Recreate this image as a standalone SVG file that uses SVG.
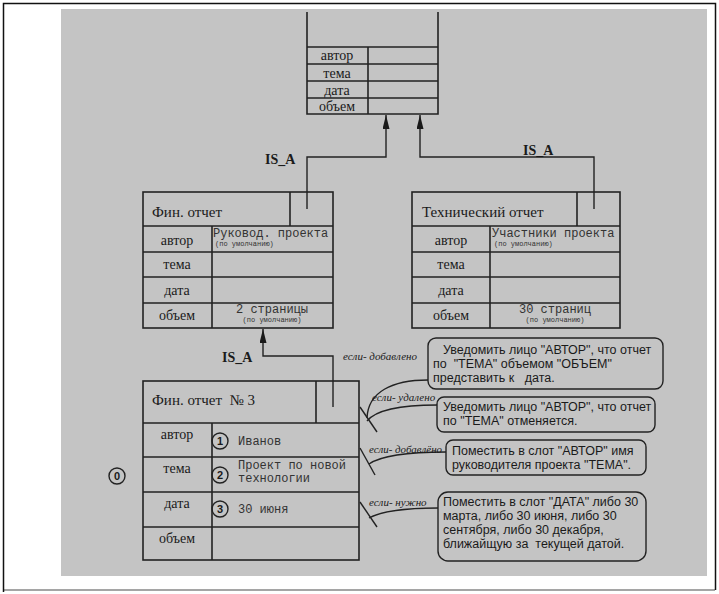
<svg xmlns="http://www.w3.org/2000/svg" width="719" height="594" viewBox="0 0 719 594">
<defs>
<marker id="arr" viewBox="0 0 14 7" refX="14" refY="3.5" markerWidth="14" markerHeight="7" markerUnits="userSpaceOnUse" orient="auto">
<path d="M0,0 L14,3.5 L0,7 Z" fill="#1a1a1a"/>
</marker>
<style>
.bx{fill:none;stroke:#222;stroke-width:1.6}
.ln{fill:none;stroke:#222;stroke-width:1.4}
.lbl{font-family:"Liberation Serif",serif;font-size:14px;fill:#1a1a1a;text-anchor:middle}
.ttl{font-family:"Liberation Serif",serif;font-size:15px;fill:#1a1a1a}
.isa{font-family:"Liberation Serif",serif;font-size:14px;font-weight:bold;fill:#1a1a1a}
.val{font-family:"Liberation Mono",monospace;font-size:12px;fill:#333}
.sm{font-family:"Liberation Mono",monospace;font-size:7px;fill:#333}
.cond{font-family:"Liberation Serif",serif;font-size:11px;font-style:italic;fill:#1a1a1a}
.call{font-family:"Liberation Sans",sans-serif;font-size:12.5px;fill:#1a1a1a}
.cb{fill:none;stroke:#222;stroke-width:1.4}
.num{font-family:"Liberation Sans",sans-serif;font-size:11px;font-weight:bold;fill:#1a1a1a;text-anchor:middle}
.circ{fill:none;stroke:#222;stroke-width:1.4}
</style>
</defs>
<rect x="0" y="0" width="719" height="594" fill="#ffffff"/>
<path d="M3.5,592 L3.5,3.5 L715.5,3.5 L715.5,590" fill="none" stroke="#111" stroke-width="1.5"/>
<line x1="3.5" y1="590" x2="715.5" y2="590" stroke="#111" stroke-width="1.5" stroke-dasharray="1,1"/>
<rect x="61" y="9" width="646" height="567" fill="#c4c4c4"/>

<g id="report">
<path class="bx" d="M307,12 L307,114 L438,114 L438,12"/>
<line class="bx" x1="307" y1="47" x2="438" y2="47"/>
<line class="bx" x1="307" y1="64" x2="438" y2="64"/>
<line class="bx" x1="307" y1="81" x2="438" y2="81"/>
<line class="bx" x1="307" y1="98" x2="438" y2="98"/>
<line class="bx" x1="368" y1="47" x2="368" y2="114"/>
<text class="lbl" x="337" y="60" font-size="13">автор</text>
<text class="lbl" x="337" y="78" font-size="13">тема</text>
<text class="lbl" x="337" y="95" font-size="13">дата</text>
<text class="lbl" x="337" y="111" font-size="13">объем</text>
</g>

<g id="fin">
<rect class="bx" x="143" y="192" width="190" height="136"/>
<line class="bx" x1="143" y1="226" x2="333" y2="226"/>
<line class="bx" x1="143" y1="252" x2="333" y2="252"/>
<line class="bx" x1="143" y1="277" x2="333" y2="277"/>
<line class="bx" x1="143" y1="303" x2="333" y2="303"/>
<line class="bx" x1="212" y1="226" x2="212" y2="328"/>
<line class="bx" x1="290" y1="192" x2="290" y2="226"/>
<text class="ttl" x="152" y="217">Фин. отчет</text>
<text class="lbl" x="177" y="245">автор</text>
<text class="lbl" x="177" y="269">тема</text>
<text class="lbl" x="177" y="295">дата</text>
<text class="lbl" x="177" y="320">объем</text>
<text class="val" x="213" y="237">Руковод. проекта</text>
<text class="sm" x="215" y="246">(по умолчанию)</text>
<text class="val" x="272" y="313" text-anchor="middle">2 страницы</text>
<text class="sm" x="272" y="322" text-anchor="middle">(по умолчанию)</text>
</g>

<g id="tech">
<rect class="bx" x="412" y="192" width="208" height="136"/>
<line class="bx" x1="412" y1="226" x2="620" y2="226"/>
<line class="bx" x1="412" y1="252" x2="620" y2="252"/>
<line class="bx" x1="412" y1="277" x2="620" y2="277"/>
<line class="bx" x1="412" y1="303" x2="620" y2="303"/>
<line class="bx" x1="490" y1="226" x2="490" y2="328"/>
<line class="bx" x1="577" y1="192" x2="577" y2="226"/>
<text class="ttl" x="422" y="217">Технический отчет</text>
<text class="lbl" x="451" y="245">автор</text>
<text class="lbl" x="451" y="269">тема</text>
<text class="lbl" x="451" y="295">дата</text>
<text class="lbl" x="451" y="320">объем</text>
<text class="val" x="492" y="237">Участники проекта</text>
<text class="sm" x="494" y="246">(по умолчанию)</text>
<text class="val" x="555" y="313" text-anchor="middle">30 страниц</text>
<text class="sm" x="555" y="322" text-anchor="middle">(по умолчанию)</text>
</g>

<g id="fin3">
<rect class="bx" x="143" y="381" width="216" height="179"/>
<line class="bx" x1="143" y1="423" x2="359" y2="423"/>
<line class="bx" x1="143" y1="457" x2="359" y2="457"/>
<line class="bx" x1="143" y1="492" x2="359" y2="492"/>
<line class="bx" x1="143" y1="527" x2="359" y2="527"/>
<line class="bx" x1="212" y1="423" x2="212" y2="560"/>
<line class="bx" x1="316" y1="381" x2="316" y2="423"/>
<text class="ttl" x="152" y="405" xml:space="preserve">Фин. отчет  № 3</text>
<text class="lbl" x="177" y="439">автор</text>
<text class="lbl" x="177" y="473">тема</text>
<text class="lbl" x="177" y="508">дата</text>
<text class="lbl" x="177" y="543">объем</text>
<circle class="circ" cx="220" cy="441" r="8"/>
<text class="num" x="220" y="445">1</text>
<circle class="circ" cx="220" cy="475" r="8"/>
<text class="num" x="220" y="479">2</text>
<circle class="circ" cx="220" cy="509" r="8"/>
<text class="num" x="220" y="513">3</text>
<text class="val" x="238" y="445">Иванов</text>
<text class="val" x="238" y="469">Проект по новой</text>
<text class="val" x="238" y="482">технологии</text>
<text class="val" x="238" y="513">30 июня</text>
</g>

<g id="zero">
<circle class="circ" cx="117" cy="476" r="8"/>
<text class="num" x="117" y="480">0</text>
</g>

<g id="connectors">
<path class="ln" d="M307,209 L307,157 L386,157 L386,115" marker-end="url(#arr)"/>
<path class="ln" d="M594,209 L594,157 L420,157 L420,115" marker-end="url(#arr)"/>
<path class="ln" d="M333,407 L333,356 L263,356 L263,329" marker-end="url(#arr)"/>
<text class="isa" x="265" y="164">IS_A</text>
<text class="isa" x="523" y="155">IS_A</text>
<text class="isa" x="222" y="362">IS_A</text>
<line class="ln" x1="360" y1="407" x2="377" y2="432"/>
<line class="ln" x1="360" y1="448" x2="375" y2="475"/>
<line class="ln" x1="360" y1="502" x2="377" y2="527"/>
<path class="ln" d="M428,380 C392,380 368,392 367,418"/>
<path class="ln" d="M437,405 C400,405 376,410 367,421"/>
<path class="ln" d="M446,452 C410,452 382,455 369,464"/>
<path class="ln" d="M438,508 C410,508 384,510 369,518"/>
<text class="cond" x="343" y="360">если- добавлено</text>
<text class="cond" x="372" y="401">если- удалено</text>
<text class="cond" x="369" y="453" textLength="73" lengthAdjust="spacingAndGlyphs">если- добавлёно</text>
<text class="cond" x="369" y="506">если- нужно</text>
</g>

<g id="note1">
<rect class="cb" x="428" y="338" width="235" height="51" rx="8"/>
<text class="call" x="443" y="354">Уведомить лицо "АВТОР", что отчет</text>
<text class="call" x="433" y="368" xml:space="preserve">по  "ТЕМА" объемом "ОБЪЕМ"</text>
<text class="call" x="433" y="382" xml:space="preserve">представить к   дата.</text>
</g>
<g id="note2">
<rect class="cb" x="437" y="397" width="218" height="35" rx="7"/>
<text class="call" x="443" y="411">Уведомить лицо "АВТОР", что отчет</text>
<text class="call" x="443" y="425">по "ТЕМА" отменяется.</text>
</g>
<g id="note3">
<rect class="cb" x="446" y="440" width="200" height="35" rx="7"/>
<text class="call" x="452" y="455">Поместить в слот "АВТОР" имя</text>
<text class="call" x="452" y="469">руководителя проекта "ТЕМА".</text>
</g>
<g id="note4">
<rect class="cb" x="438" y="492" width="208" height="69" rx="10"/>
<text class="call" x="443" y="506">Поместить в слот "ДАТА" либо 30</text>
<text class="call" x="443" y="520">марта, либо 30 июня, либо 30</text>
<text class="call" x="443" y="534">сентября, либо 30 декабря,</text>
<text class="call" x="443" y="548" xml:space="preserve">ближайщую за  текущей датой.</text>
</g>
</svg>
